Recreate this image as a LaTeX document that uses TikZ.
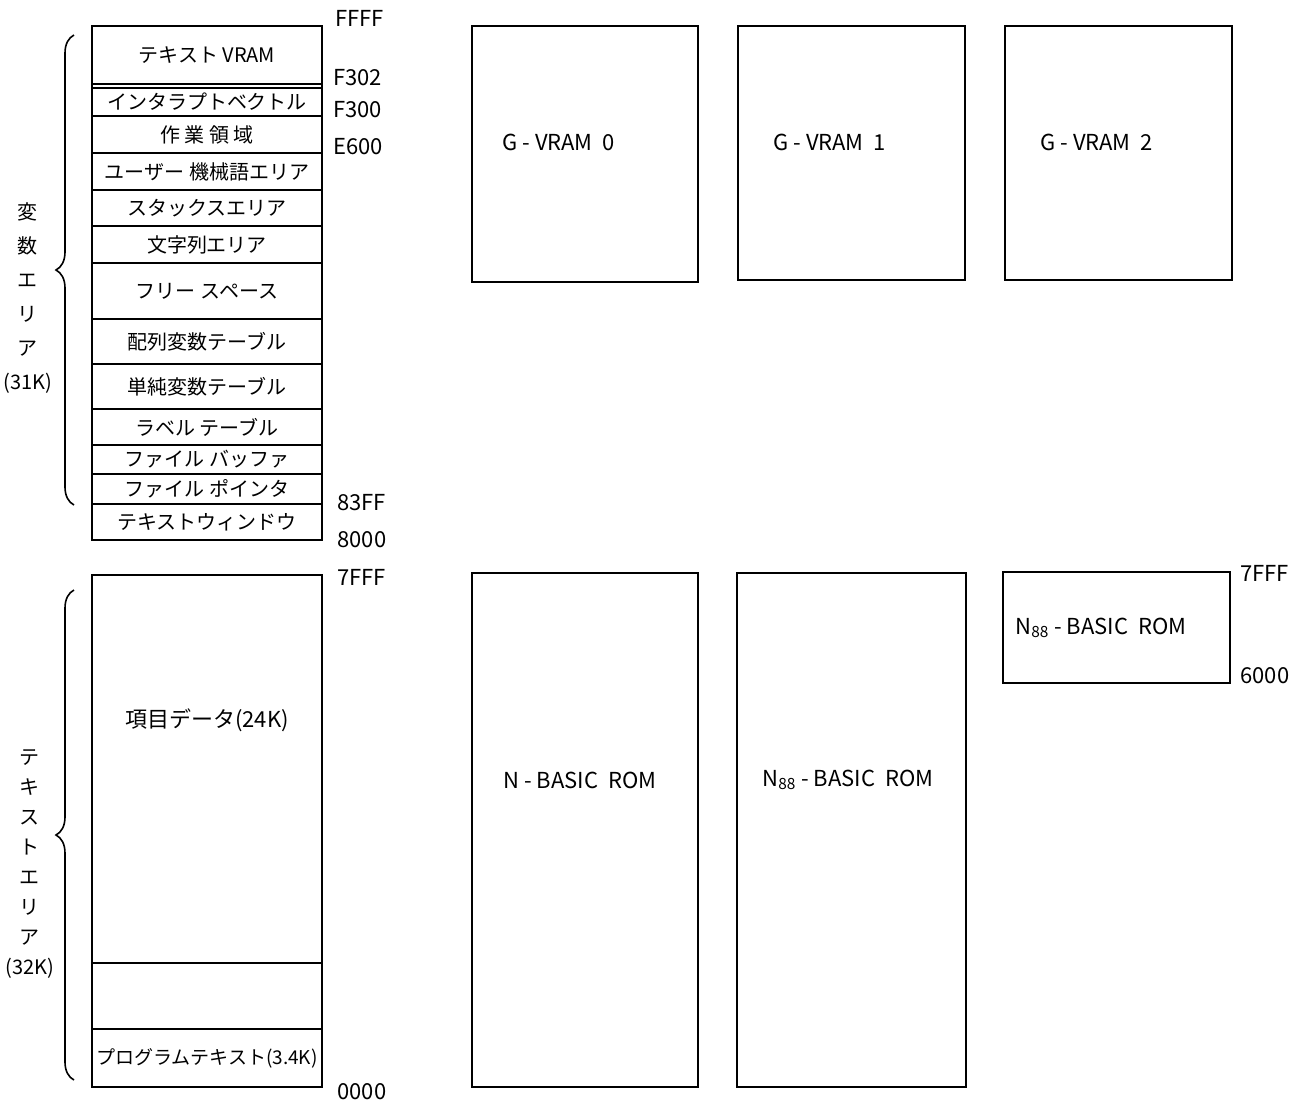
\documentclass[tikz,border=0pt]{standalone}
\usepackage{fontspec}
\newfontfamily\jpfont{Noto Sans CJK JP}
\usetikzlibrary{positioning,decorations.pathreplacing}

\tikzset{
  cell/.style={draw, line width=0.8pt, minimum width=115pt, inner sep=0pt, font=\jpfont\fontsize{10}{12}\selectfont},
  membox/.style={draw, line width=0.8pt, inner sep=0pt},
  addr/.style={anchor=west, inner sep=0pt, font=\jpfont\fontsize{11}{13}\selectfont},
  boxlabel/.style={anchor=west, inner sep=0pt, font=\jpfont\fontsize{11}{13}\selectfont},
  sidelabel/.style={align=center, inner sep=0pt},
  curly/.style={decorate, decoration={brace, amplitude=9pt}, line width=0.8pt}
}

\begin{document}
\begin{tikzpicture}[x=0.5pt, y=-0.5pt]
    \useasboundingbox (0,0) rectangle (1308,1100);

    % variable area (8000-FFFF)
    \node[membox, minimum width=115pt, minimum height=257pt] (varframe) at (207,283) {};
    \node[cell, minimum height=29pt]   (tvram)   at (207,55)    {テキスト VRAM};
    \node[cell, minimum height=14pt]   (intvec)  at (207,102)   {インタラプトベクトル};
    \node[cell, minimum height=18.5pt] (work)    at (207,134.5) {作 業 領 域};
    \node[cell, minimum height=18.5pt] (usermc)  at (207,171.5) {ユーザー 機械語エリア};
    \node[cell, minimum height=18pt]   (stack)   at (207,208)   {スタックスエリア};
    \node[cell, minimum height=18.5pt] (strarea) at (207,244.5) {文字列エリア};
    \node[cell, minimum height=28pt]   (free)    at (207,291)   {フリー スペース};
    \node[cell, minimum height=22.5pt] (arrtab)  at (207,341.5) {配列変数テーブル};
    \node[cell, minimum height=22.5pt] (vartab)  at (207,386.5) {単純変数テーブル};
    \node[cell, minimum height=18pt]   (labtab)  at (207,427)   {ラベル テーブル};
    \node[cell, minimum height=14.5pt] (fbuf)    at (207,459.5) {ファイル バッファ};
    \node[cell, minimum height=15pt]   (fptr)    at (207,489)   {ファイル ポインタ};
    \node[cell, minimum height=18pt]   (twin)    at (207,522)   {テキストウィンドウ};

    % text area (0000-7FFF)
    \node[cell, minimum height=194pt] (data)  at (207,769) {};
    \node[inner sep=0pt, font=\jpfont\fontsize{11}{13}\selectfont] (datalbl) at (207,720) {項目データ(24K)};
    \node[cell, minimum height=33pt]  (spare) at (207,996) {};
    \node[cell, minimum height=29pt, font=\jpfont\fontsize{9.5}{12}\selectfont] (prog) at (207,1058) {プログラムテキスト(3.4K)};

    % addresses
    \node[addr] (aFFFF) at (335,18)   {FFFF};
    \node[addr] (aF302) at (333,78)   {F302};
    \node[addr] (aF300) at (333,110)  {F300};
    \node[addr] (aE600) at (333,147)  {E600};
    \node[addr] (a83FF) at (337,503)  {83FF};
    \node[addr] (a8000) at (337,540)  {8000};
    \node[addr] (a7FFF) at (337,577)  {7FFF};
    \node[addr] (a0000) at (337,1092) {0000};

    % braces and side labels
    \coordinate (vtop) at (74,35);
    \coordinate (vbot) at (74,505);
    \coordinate (ttop) at (74,590);
    \coordinate (tbot) at (74,1080);
    \draw[curly] (vbot) -- (vtop);
    \draw[curly] (tbot) -- (ttop);
    \node[sidelabel, font=\jpfont\fontsize{10}{17}\selectfont] (varlbl) at (28,298)
        {変\\数\\エ\\リ\\ア\\(31K)};
    \node[sidelabel, font=\jpfont\fontsize{10}{15}\selectfont] (txtlbl) at (30,864)
        {テ\\キ\\ス\\ト\\エ\\リ\\ア\\(32K)};

    % graphic VRAM banks
    \node[membox, minimum width=113pt, minimum height=128pt]   (gvram0) at (585,154)   {};
    \node[membox, minimum width=113.5pt, minimum height=127pt] (gvram1) at (851.5,153) {};
    \node[membox, minimum width=113.5pt, minimum height=127pt] (gvram2) at (1118.5,153) {};
    \node[boxlabel] (g0lbl) at (502,142)  {G - VRAM \ 0};
    \node[boxlabel] (g1lbl) at (773,142)  {G - VRAM \ 1};
    \node[boxlabel] (g2lbl) at (1040,142) {G - VRAM \ 2};

    % ROM banks
    \node[membox, minimum width=113pt, minimum height=257pt]   (nrom)   at (585,830)    {};
    \node[membox, minimum width=114.5pt, minimum height=257pt] (n88rom) at (851.5,830)  {};
    \node[membox, minimum width=113.5pt, minimum height=55.5pt] (n88sub) at (1116.5,627.5) {};
    \node[boxlabel] (nlbl)     at (503,780)  {N - BASIC \ ROM};
    \node[boxlabel] (n88lbl)   at (762,780)  {N\textsubscript{88} - BASIC \ ROM};
    \node[boxlabel] (n88sublbl) at (1015,628) {N\textsubscript{88} - BASIC \ ROM};
    \node[addr] (b7FFF) at (1240,573) {7FFF};
    \node[addr] (b6000) at (1240,676) {6000};
\end{tikzpicture}
\end{document}
